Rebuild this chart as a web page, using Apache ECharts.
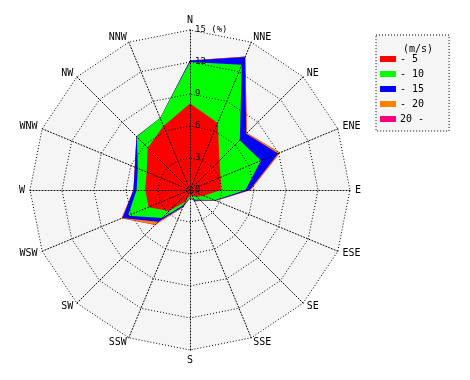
<!DOCTYPE html>
<html>
<head>
<meta charset="utf-8">
<script src="https://cdn.jsdelivr.net/npm/echarts@6/dist/echarts.min.js"></script>
<style>html,body{margin:0;padding:0;background:#fff}#c{width:470px;height:380px}</style>
</head>
<body>
<div id="c"></div>
<script>
// Directions in compass order (clockwise from N)
var directions = ['N','NNE','NE','ENE','E','ESE','SE','SSE','S','SSW','SW','WSW','W','WNW','NW','NNW'];
// Cumulative frequency (%) up to each wind-speed class
var upTo5  = [8.1, 6.8, 3.9, 3.1, 2.9, 1.4, 0.9, 0.6, 0.5, 1.2, 2.8, 4.2, 4.2, 4.4, 5.6, 6.5];
var upTo10 = [12.0, 12.7, 6.6, 7.2, 5.2, 2.5, 1.3, 1.0, 0.7, 1.5, 3.7, 6.3, 5.0, 5.3, 7.05, 7.3];
var upTo15 = [12.15, 13.5, 7.45, 8.95, 5.6, 2.6, 1.4, 1.1, 0.75, 1.7, 4.2, 6.85, 5.3, 5.6, 7.1, 7.3];
var upTo20 = [12.15, 13.55, 7.55, 9.15, 5.7, 2.65, 1.45, 1.15, 0.8, 1.8, 4.6, 6.9, 5.3, 5.6, 7.1, 7.3];
var allSpeeds = [12.15, 13.55, 7.55, 9.15, 5.7, 2.65, 1.45, 1.15, 0.8, 1.8, 4.65, 6.95, 5.3, 5.6, 7.1, 7.3];
var classNames = ['- 5', '- 10', '- 15', '- 20', '20 -'];
var classColors = ['#ff0000', '#00ff00', '#0000ff', '#ff8000', '#ff0080'];
var radialMax = 15;
var radialSplits = 5;

// radar lays indicators counter-clockwise; reorder so they appear clockwise
function cw(arr) { return [arr[0]].concat(arr.slice(1).reverse()); }

var font = 'DejaVu Sans Mono, monospace';
var dirOrder = cw(directions);
var indBase = dirOrder.map(function (d) { return { name: d, min: 0, max: radialMax }; });
var indLabels = dirOrder.map(function (d, i) {
  var o = { name: d, min: 0, max: radialMax };
  if (i === 0) {
    o.axisLabel = {
      show: true, color: '#000', fontSize: 9, fontFamily: font,
      margin: -5, align: 'left', verticalAlign: 'middle', padding: [0, 0, 6, 0],
      formatter: function (v) { return v === radialMax ? v + ' (%)' : v; }
    };
  }
  return o;
});

var cumSeries = [allSpeeds, upTo20, upTo15, upTo10, upTo5];
var cumColors = classColors.slice().reverse();
var cumNames = classNames.slice().reverse();

var series = cumSeries.map(function (vals, i) {
  return {
    type: 'radar', radarIndex: 0, name: cumNames[i], z: 2,
    symbol: 'none', silent: true,
    itemStyle: { color: cumColors[i] },
    lineStyle: { width: 0, opacity: 0 },
    areaStyle: { color: cumColors[i], opacity: 1 },
    data: [{ value: cw(vals), name: cumNames[i] }]
  };
});

var chart = echarts.init(document.getElementById('c'), null, { renderer: 'canvas' });
chart.setOption({
  animation: false,
  backgroundColor: '#fff',
  title: {
    text: '(m/s)', left: 413, top: 39, textAlign: 'center',
    textStyle: { fontSize: 10, fontWeight: 'normal', color: '#000', fontFamily: font },
    z: 10
  },
  legend: {
    orient: 'vertical', left: 376, top: 35,
    data: classNames,
    itemWidth: 16, itemHeight: 6, itemGap: 3,
    icon: 'rect',
    padding: [18, 25, 6, 4],
    backgroundColor: '#f5f5f5', borderColor: '#000', borderWidth: 1, borderType: [1, 2],
    textStyle: { fontSize: 10, color: '#000', fontFamily: font, lineHeight: 12, padding: [0, 0, 0, -1] },
    itemStyle: { borderWidth: 0 },
    selectedMode: false
  },
  radar: [
    {
      center: [190, 190], radius: 160, shape: 'polygon', splitNumber: radialSplits,
      indicator: indBase, z: 0, silent: true,
      axisName: { show: false },
      axisLine: { show: false }, axisTick: { show: false }, axisLabel: { show: false },
      splitLine: { show: false },
      splitArea: { show: true, areaStyle: { color: ['#f5f5f5'] } }
    },
    {
      center: [190, 190], radius: 160, shape: 'polygon', splitNumber: radialSplits,
      indicator: indLabels, z: 5, silent: true, nameGap: 5,
      axisName: { show: true, color: '#000', fontSize: 10, fontFamily: font },
      axisLine: { show: true, lineStyle: { color: '#000', width: 1, type: [1, 2] } },
      axisTick: { show: false },
      axisLabel: { show: false },
      splitLine: { show: true, lineStyle: { color: '#000', width: 1, type: [1, 2] } },
      splitArea: { show: false }
    }
  ],
  series: series
});
</script>
</body>
</html>
